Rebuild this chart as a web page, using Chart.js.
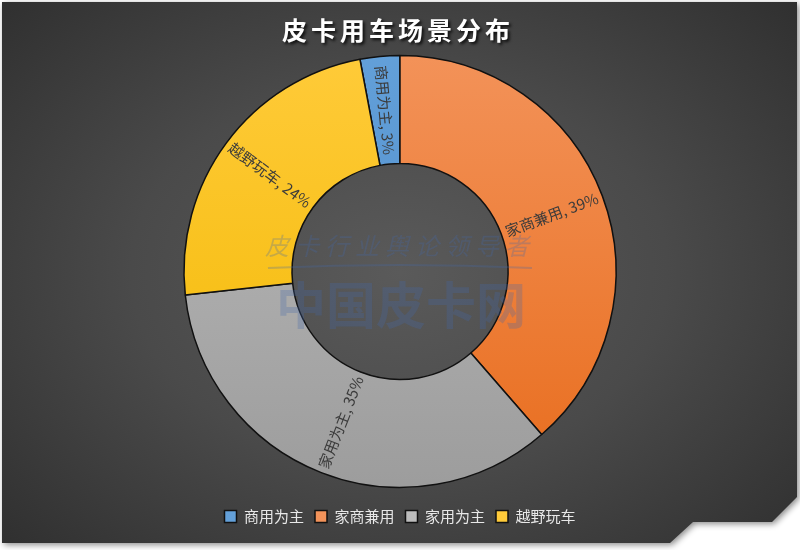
<!DOCTYPE html>
<html>
<head>
<meta charset="utf-8">
<script src="https://cdn.jsdelivr.net/npm/chart.js@4.4.1/dist/chart.umd.min.js"></script>
<style>
    html, body { margin: 0; padding: 0; background: #ffffff; }
    .wrap {
        position: relative;
        width: 800px;
        height: 550px;
        filter: drop-shadow(2px 2px 3px rgba(0, 0, 0, 0.45));
    }
    .panel {
        position: absolute;
        left: 2px;
        top: 2px;
        width: 795px;
        height: 541px;
        background: radial-gradient(ellipse 75% 80% at 50% 50%, #5a5a5a 0%, #4a4a4a 45%, #2b2b2b 100%);
        clip-path: polygon(0 0, 100% 0, 100% 495px, 770px 520px, 691px 520px, 668px 541px, 0 541px);
    }
    canvas { position: absolute; left: 0; top: 0; }
</style>
</head>
<body>
<div class="wrap">
    <div class="panel"></div>
    <canvas id="chart" width="800" height="550"></canvas>
</div>
<script>
// Chart data
const title = "皮卡用车场景分布";
const categories = ["商用为主", "家商兼用", "家用为主", "越野玩车"];
const values = [3, 39, 35, 24];

// Slice colours (top / bottom of gradient)
const topColors = ["#63a0d9", "#f3935a", "#bcbcbc", "#ffcb3a"];
const bottomColors = ["#4a88c8", "#e86c1c", "#9c9c9c", "#f2b800"];

const total = values.reduce((s, v) => s + v, 0);

function sliceColor(context) {
    const i = context.dataIndex;
    const area = context.chart.chartArea;
    if (!area) return bottomColors[i];
    const g = context.chart.ctx.createLinearGradient(0, area.top, 0, area.bottom);
    g.addColorStop(0, topColors[i]);
    g.addColorStop(1, bottomColors[i]);
    return g;
}

// Title with shadow and spacing
const titlePlugin = {
    id: "titleText",
    afterDraw(chart) {
        const ctx = chart.ctx;
        ctx.save();
        ctx.font = "bold 25px 'Noto Sans CJK SC'";
        ctx.letterSpacing = "4px";
        ctx.textAlign = "center";
        ctx.textBaseline = "middle";
        ctx.shadowColor = "rgba(0,0,0,0.8)";
        ctx.shadowOffsetX = 2;
        ctx.shadowOffsetY = 2;
        ctx.shadowBlur = 3;
        ctx.fillStyle = "#ffffff";
        ctx.fillText(title, 398, 30);
        ctx.restore();
    },
};

// Faint watermark over the chart
const watermarkPlugin = {
    id: "watermark",
    afterDatasetsDraw(chart) {
        const ctx = chart.ctx;
        ctx.save();
        ctx.textAlign = "center";
        ctx.textBaseline = "middle";
        ctx.fillStyle = "rgba(70, 105, 170, 0.28)";
        ctx.font = "italic 24px 'Noto Sans CJK SC'";
        ctx.letterSpacing = "6px";
        ctx.fillText("皮卡行业舆论领导者", 400, 246);
        ctx.strokeStyle = "rgba(70, 105, 170, 0.28)";
        ctx.lineWidth = 2;
        ctx.beginPath();
        ctx.moveTo(268, 268);
        ctx.quadraticCurveTo(400, 262, 532, 268);
        ctx.stroke();
        ctx.font = "bold 50px 'Noto Sans CJK SC'";
        ctx.letterSpacing = "0px";
        ctx.fillText("中国皮卡网", 401, 305);
        ctx.restore();
    },
};

// Rotated labels inside each slice
const sliceLabels = {
    id: "sliceLabels",
    afterDatasetsDraw(chart) {
        const ctx = chart.ctx;
        const arcs = chart.getDatasetMeta(0).data;
        ctx.save();
        ctx.font = "15px 'Noto Sans CJK SC'";
        ctx.fillStyle = "#3b3b3b";
        ctx.textAlign = "center";
        ctx.textBaseline = "middle";
        arcs.forEach((arc, i) => {
            const mid = (arc.startAngle + arc.endAngle) / 2;
            const r = (arc.innerRadius + arc.outerRadius) / 2;
            const x = arc.x + Math.cos(mid) * r;
            const y = arc.y + Math.sin(mid) * r;
            let rot = mid;
            if (Math.cos(rot) < -0.01) rot += Math.PI;
            ctx.save();
            ctx.translate(x, y);
            ctx.rotate(rot);
            ctx.fillText(categories[i] + ", " + values[i] + "%", 0, 0);
            ctx.restore();
        });
        ctx.restore();
    },
};

new Chart(document.getElementById("chart"), {
    type: "doughnut",
    data: {
        labels: categories,
        datasets: [
            {
                data: values,
                backgroundColor: sliceColor,
                borderColor: "#111111",
                borderWidth: 1.5,
                radius: 216,
            },
        ],
    },
    options: {
        responsive: false,
        animation: false,
        cutout: "50%",
        rotation: -values[0] / total * 360,
        layout: {
            padding: { top: 45, bottom: 16 },
        },
        plugins: {
            tooltip: { enabled: false },
            title: { display: false },
            legend: {
                position: "bottom",
                labels: {
                    color: "#e8e8e8",
                    boxWidth: 12,
                    boxHeight: 12,
                    padding: 11,
                    font: { size: 15, family: "'Noto Sans CJK SC'" },
                    generateLabels(chart) {
                        return categories.map((c, i) => ({
                            text: c,
                            fillStyle: topColors[i],
                            strokeStyle: "#111111",
                            lineWidth: 1.5,
                            fontColor: "#e8e8e8",
                            index: i,
                        }));
                    },
                },
            },
        },
    },
    plugins: [watermarkPlugin, sliceLabels, titlePlugin],
});
</script>
</body>
</html>
